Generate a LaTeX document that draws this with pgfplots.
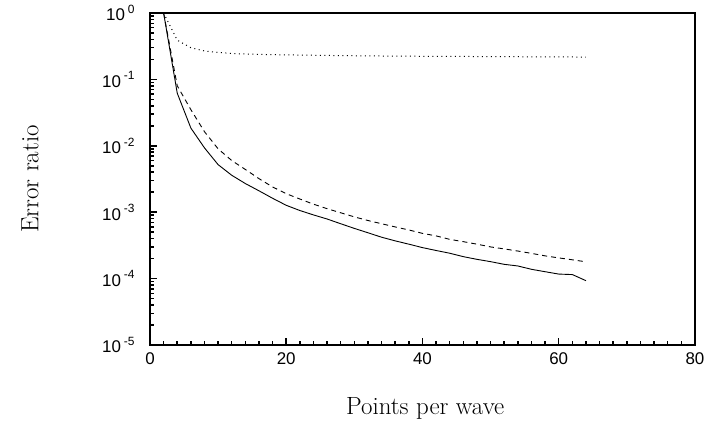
\documentclass[border=0pt]{standalone}
\usepackage{pgfplots}
\pgfplotsset{compat=1.18}
\usepackage{fontspec}
\newfontfamily\tickfont{Liberation Sans}
\newcommand{\dec}[1]{10\,\raisebox{0.45em}{\fontsize{12}{12}\selectfont #1}}

\pgfplotstableread{
x y
2 1.0
4 0.062
6 0.0185
8 0.0093
10 0.0052
12 0.0036
14 0.0027
16 0.0021
18 0.00162
20 0.00127
22 0.00106
24 0.00091
26 0.00079
28 0.00067
30 0.00057
32 0.00049
34 0.00042
36 0.00037
38 0.00033
40 0.000293
42 0.000265
44 0.000241
46 0.000214
48 0.000195
50 0.000180
52 0.000164
54 0.000155
56 0.000138
58 0.000127
60 0.000117
62 0.000115
64 0.000093
}\solid

\pgfplotstableread{
x y
2 1.0
4 0.08
6 0.035
8 0.0163
10 0.0090
12 0.0060
14 0.0044
16 0.0032
18 0.0024
20 0.00190
22 0.00158
24 0.00132
26 0.00113
28 0.00098
30 0.00085
32 0.00075
34 0.00067
36 0.00060
38 0.00054
40 0.00048
42 0.00044
44 0.00039
46 0.00036
48 0.00033
50 0.00030
52 0.00028
54 0.00026
56 0.00024
58 0.00022
60 0.000205
62 0.000192
64 0.000179
}\dashedtab

\pgfplotstableread{
x y
2 1.0
4 0.39
6 0.30
8 0.268
10 0.255
12 0.246
14 0.241
16 0.238
18 0.236
20 0.234
24 0.231
28 0.228
32 0.226
36 0.224
40 0.223
44 0.222
48 0.221
52 0.220
56 0.219
60 0.218
64 0.217
}\dottedtab

\begin{document}
\begin{tikzpicture}
\begin{axis}[
  at={(0,0)}, anchor=south west,
  scale only axis,
  width=545bp, height=332bp,
  ymode=log,
  xmin=0, xmax=80, ymin=1e-5, ymax=1,
  xtick={0,20,40,60,80},
  minor xtick={2,4,...,78},
  ytick={1e-5,1e-4,1e-3,1e-2,1e-1,1},
  minor ytick={2e-5,3e-5,4e-5,5e-5,6e-5,7e-5,8e-5,9e-5,
               2e-4,3e-4,4e-4,5e-4,6e-4,7e-4,8e-4,9e-4,
               2e-3,3e-3,4e-3,5e-3,6e-3,7e-3,8e-3,9e-3,
               2e-2,3e-2,4e-2,5e-2,6e-2,7e-2,8e-2,9e-2,
               0.2,0.3,0.4,0.5,0.6,0.7,0.8,0.9},
  yticklabels={\dec{-5},\dec{-4},\dec{-3},\dec{-2},\dec{-1},\dec{0}},
  xticklabels={0,20,40,60,80},
  xtick pos=bottom, ytick pos=left,
  xtick align=inside, ytick align=inside,
  major tick length=7bp, minor tick length=4bp,
  xtick style={draw=black, line width=1.5bp},
  ytick style={draw=black, line width=1.5bp},
  axis line style={line width=1.6bp},
  tick label style={font=\tickfont\fontsize{17}{17}\selectfont},
  yticklabel style={xshift=-12bp},
  xticklabel style={yshift=-4bp},
  xlabel={Points per wave},
  ylabel={Error ratio},
  label style={font=\fontsize{25}{25}\selectfont},
  xlabel style={at={(axis description cs:0.505,-0.19)}, anchor=center},
  ylabel style={at={(axis description cs:-0.22,0.5)}, anchor=center},
]
\addplot[black, line width=0.9bp] table[x=x,y=y] {\solid};
\addplot[black, line width=0.9bp, dash pattern=on 5bp off 4bp] table[x=x,y=y] {\dashedtab};
\addplot[black, line width=1bp, dash pattern=on 1bp off 3.5bp] table[x=x,y=y] {\dottedtab};
\end{axis}
\pgfresetboundingbox
\path[use as bounding box] (-150bp,-93bp) rectangle (554bp,345bp);
\end{tikzpicture}
\end{document}
